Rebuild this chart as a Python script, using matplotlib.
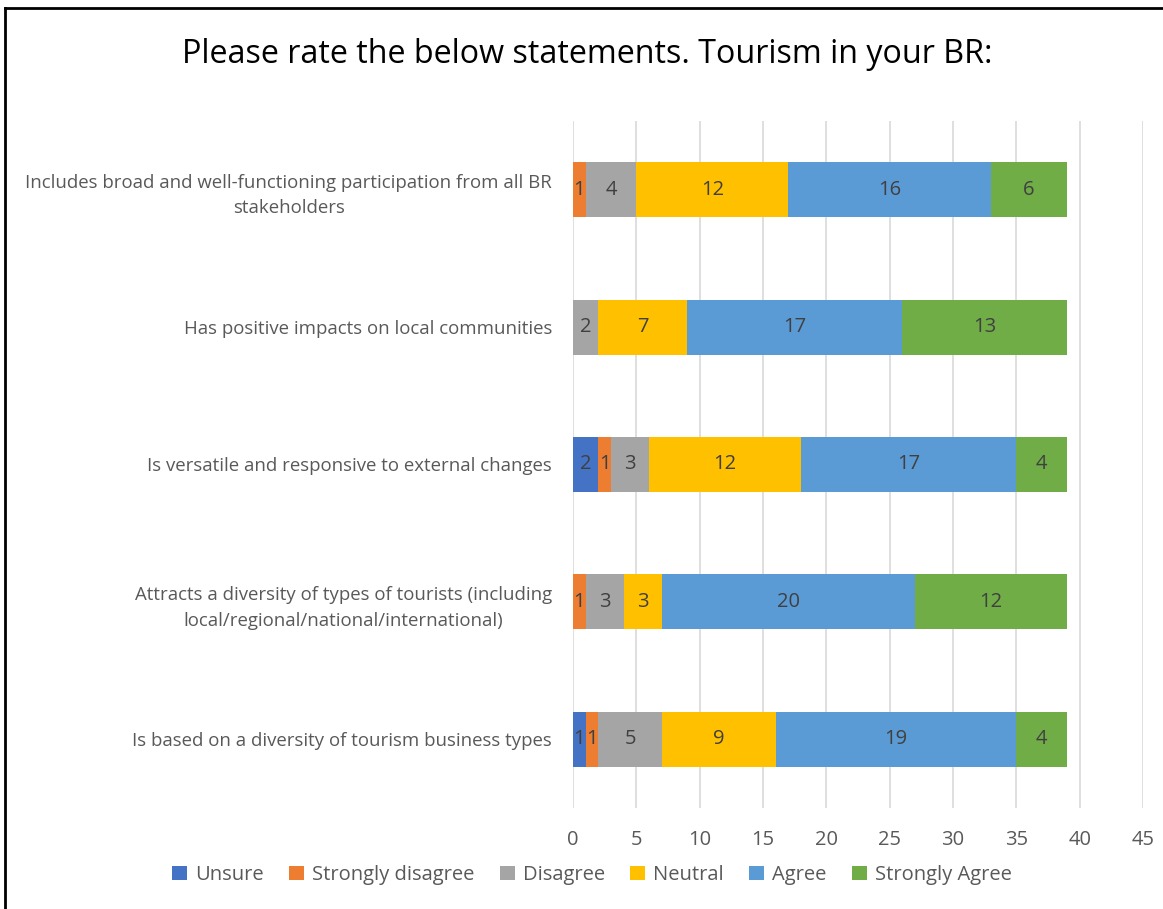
import numpy as np
import matplotlib.pyplot as plt
from matplotlib.lines import Line2D

plt.rcParams['font.family'] = ['Open Sans', 'DejaVu Sans']

# Survey statements, top to bottom
statements = [
    "Includes broad and well-functioning participation from all BR\nstakeholders",
    "Has positive impacts on local communities",
    "Is versatile and responsive to external changes",
    "Attracts a diversity of types of tourists (including\nlocal/regional/national/international)",
    "Is based on a diversity of tourism business types",
]
responses = ["Unsure", "Strongly disagree", "Disagree", "Neutral", "Agree", "Strongly Agree"]
colors = ["#4472C4", "#ED7D31", "#A5A5A5", "#FFC000", "#5B9BD5", "#70AD47"]

unsure = [0, 0, 2, 0, 1]
strongly_disagree = [1, 0, 1, 1, 1]
disagree = [4, 2, 3, 3, 5]
neutral = [12, 7, 12, 3, 9]
agree = [16, 17, 17, 20, 19]
strongly_agree = [6, 13, 4, 12, 4]

series = [unsure, strongly_disagree, disagree, neutral, agree, strongly_agree]

fig = plt.figure(figsize=(11.63, 9.09), dpi=100)
ax = fig.add_axes([0.4927, 0.1111, 0.4901, 0.7558])

ypos = np.arange(len(statements))[::-1]
left = np.zeros(len(statements))
for name, vals, col in zip(responses, series, colors):
    vals = np.array(vals, dtype=float)
    bars = ax.barh(ypos, vals, left=left, height=0.4, color=col, label=name, zorder=3)
    for b, v, l in zip(bars, vals, left):
        if v > 0:
            ax.text(l + v / 2, b.get_y() + b.get_height() / 2, f"{int(v)}",
                    ha='center', va='center', fontsize=14.5, color='#404040', zorder=4)
    left += vals

ax.set_xlim(0, 45)
ax.set_ylim(-0.5, 4.5)
ax.set_xticks(np.arange(0, 46, 5))
ax.set_yticks(ypos)
ax.set_yticklabels(statements, multialignment='center', linespacing=1.55)
ax.tick_params(axis='both', length=0, colors='#595959')
ax.tick_params(axis='y', pad=15, labelsize=13.4)
ax.tick_params(axis='x', pad=16, labelsize=14.5)
ax.grid(axis='x', color='#D9D9D9', linewidth=1.2, zorder=0)
for s in ax.spines.values():
    s.set_visible(False)

fig.suptitle("Please rate the below statements. Tourism in your BR:", x=0.505, y=0.958,
             fontsize=23.2, color='black')

ax.legend(loc='center', bbox_to_anchor=(0.509, 0.0374), bbox_transform=fig.transFigure,
          ncol=6, frameon=False, fontsize=14.5, handlelength=0.75, handleheight=0.75,
          handletextpad=0.4, columnspacing=1.25, labelcolor='#595959')

# outer frame lines
fig.add_artist(Line2D([0.0045, 0.0045], [0, 0.991], transform=fig.transFigure, color='black', lw=2))
fig.add_artist(Line2D([0.0045, 1.0], [0.991, 0.991], transform=fig.transFigure, color='black', lw=2))

fig.savefig("out.png", dpi=100)
